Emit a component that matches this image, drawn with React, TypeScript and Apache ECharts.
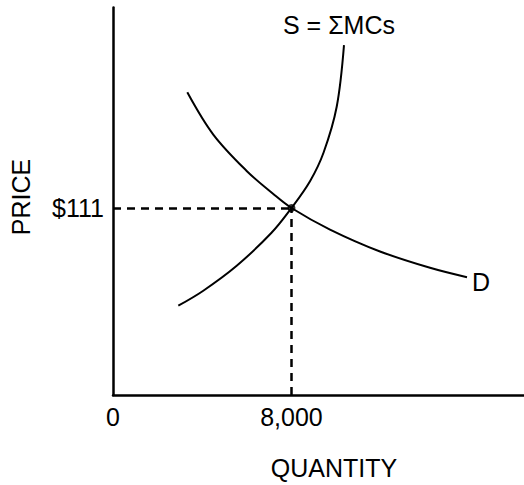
import React, { useEffect, useRef } from "react";
import * as echarts from "echarts";

// Supply curve S = ΣMCs (quantity, price)
const supplyQty = [2927, 4047, 5544, 7104, 8000, 8830, 9435, 10026, 10353];
const supplyPrice = [53.0, 61.9, 76.7, 96.3, 111, 126.9, 143.8, 171.1, 207.7];
// Demand curve D (quantity, price)
const demandQty = [3330, 4495, 5992, 7185, 8000, 9726, 11967, 14208, 15866];
const demandPrice = [179.7, 154.6, 133.0, 119.3, 111, 98.2, 85.2, 75.5, 69.9];
// Equilibrium
const eqQty = 8000;
const eqPrice = 111;
// Tick labels
const xTickValues = [0, 8000];
const xTickLabels = ["0", "8,000"];
const yTickValues = [111];
const yTickLabels = ["$111"];
const xAxisTitle = "QUANTITY";
const yAxisTitle = "PRICE";
const supplyName = "S = ΣMCs";
const demandName = "D";

const FONT = "'Liberation Sans', Arial, Helvetica, sans-serif";
const FS = 25;

export default function App() {
  const ref = useRef<HTMLDivElement>(null);
  useEffect(() => {
    if (!ref.current) return;
    const chart = echarts.init(ref.current, undefined, { renderer: "svg" });
    const zip = (a: number[], b: number[]) => a.map((v, i) => [v, b[i]]);
    chart.setOption({
      animation: false,
      backgroundColor: "#ffffff",
      grid: { left: 113, right: 0, top: 7.5, bottom: 90, containLabel: false },
      xAxis: {
        type: "value",
        min: 0,
        max: 18421,
        interval: 8000,
        axisLine: { show: true, lineStyle: { color: "#000", width: 2.5 } },
        axisTick: { show: false },
        splitLine: { show: false },
        axisLabel: {
          margin: 9,
          color: "#000",
          fontSize: FS,
          fontFamily: FONT,
          showMaxLabel: false,
          formatter: (v: number) => {
            const i = xTickValues.indexOf(v);
            return i >= 0 ? xTickLabels[i] : "";
          },
        },
      },
      yAxis: {
        type: "value",
        min: 0,
        max: 230,
        interval: 111,
        axisLine: { show: true, lineStyle: { color: "#000", width: 2.5 } },
        axisTick: { show: false },
        splitLine: { show: false },
        axisLabel: {
          margin: 9,
          color: "#000",
          fontSize: FS,
          fontFamily: FONT,
          showMaxLabel: false,
          formatter: (v: number) => {
            const i = yTickValues.indexOf(v);
            return i >= 0 ? yTickLabels[i] : "";
          },
        },
      },
      series: [
        {
          name: supplyName,
          type: "line",
          data: zip(supplyQty, supplyPrice),
          smooth: 0.35,
          showSymbol: false,
          lineStyle: { color: "#000", width: 2 },
          markLine: {
            silent: true,
            symbol: "none",
            label: { show: false },
            lineStyle: { color: "#000", width: 2.5, type: [8, 6] },
            data: [
              [
                { coord: [0, eqPrice] },
                { coord: [eqQty, eqPrice] },
              ],
              [
                { coord: [eqQty, 0] },
                { coord: [eqQty, eqPrice] },
              ],
            ],
          },
        },
        {
          name: demandName,
          type: "line",
          data: zip(demandQty, demandPrice),
          smooth: 0.35,
          showSymbol: false,
          lineStyle: { color: "#000", width: 2 },
        },
        {
          type: "scatter",
          data: [[eqQty, eqPrice]],
          symbolSize: 8,
          itemStyle: { color: "#000" },
          z: 5,
        },
      ],
      graphic: [
        {
          type: "text",
          x: 339,
          y: 25,
          style: {
            text: supplyName,
            fill: "#000",
            font: `${FS}px ${FONT}`,
            align: "center",
            verticalAlign: "middle",
          },
        },
        {
          type: "text",
          x: 481,
          y: 282,
          style: {
            text: demandName,
            fill: "#000",
            font: `${FS}px ${FONT}`,
            align: "center",
            verticalAlign: "middle",
          },
        },
        {
          type: "text",
          x: 334,
          y: 468,
          style: {
            text: xAxisTitle,
            fill: "#000",
            font: `${FS}px ${FONT}`,
            align: "center",
            verticalAlign: "middle",
          },
        },
        {
          type: "text",
          x: 21,
          y: 197,
          rotation: Math.PI / 2,
          style: {
            text: yAxisTitle,
            fill: "#000",
            font: `${FS}px ${FONT}`,
            align: "center",
            verticalAlign: "middle",
          },
        },
      ],
    });
    return () => chart.dispose();
  }, []);
  return (
    <div
      ref={ref}
      style={{ position: "fixed", left: 0, top: 0, width: 524, height: 485 }}
    />
  );
}
